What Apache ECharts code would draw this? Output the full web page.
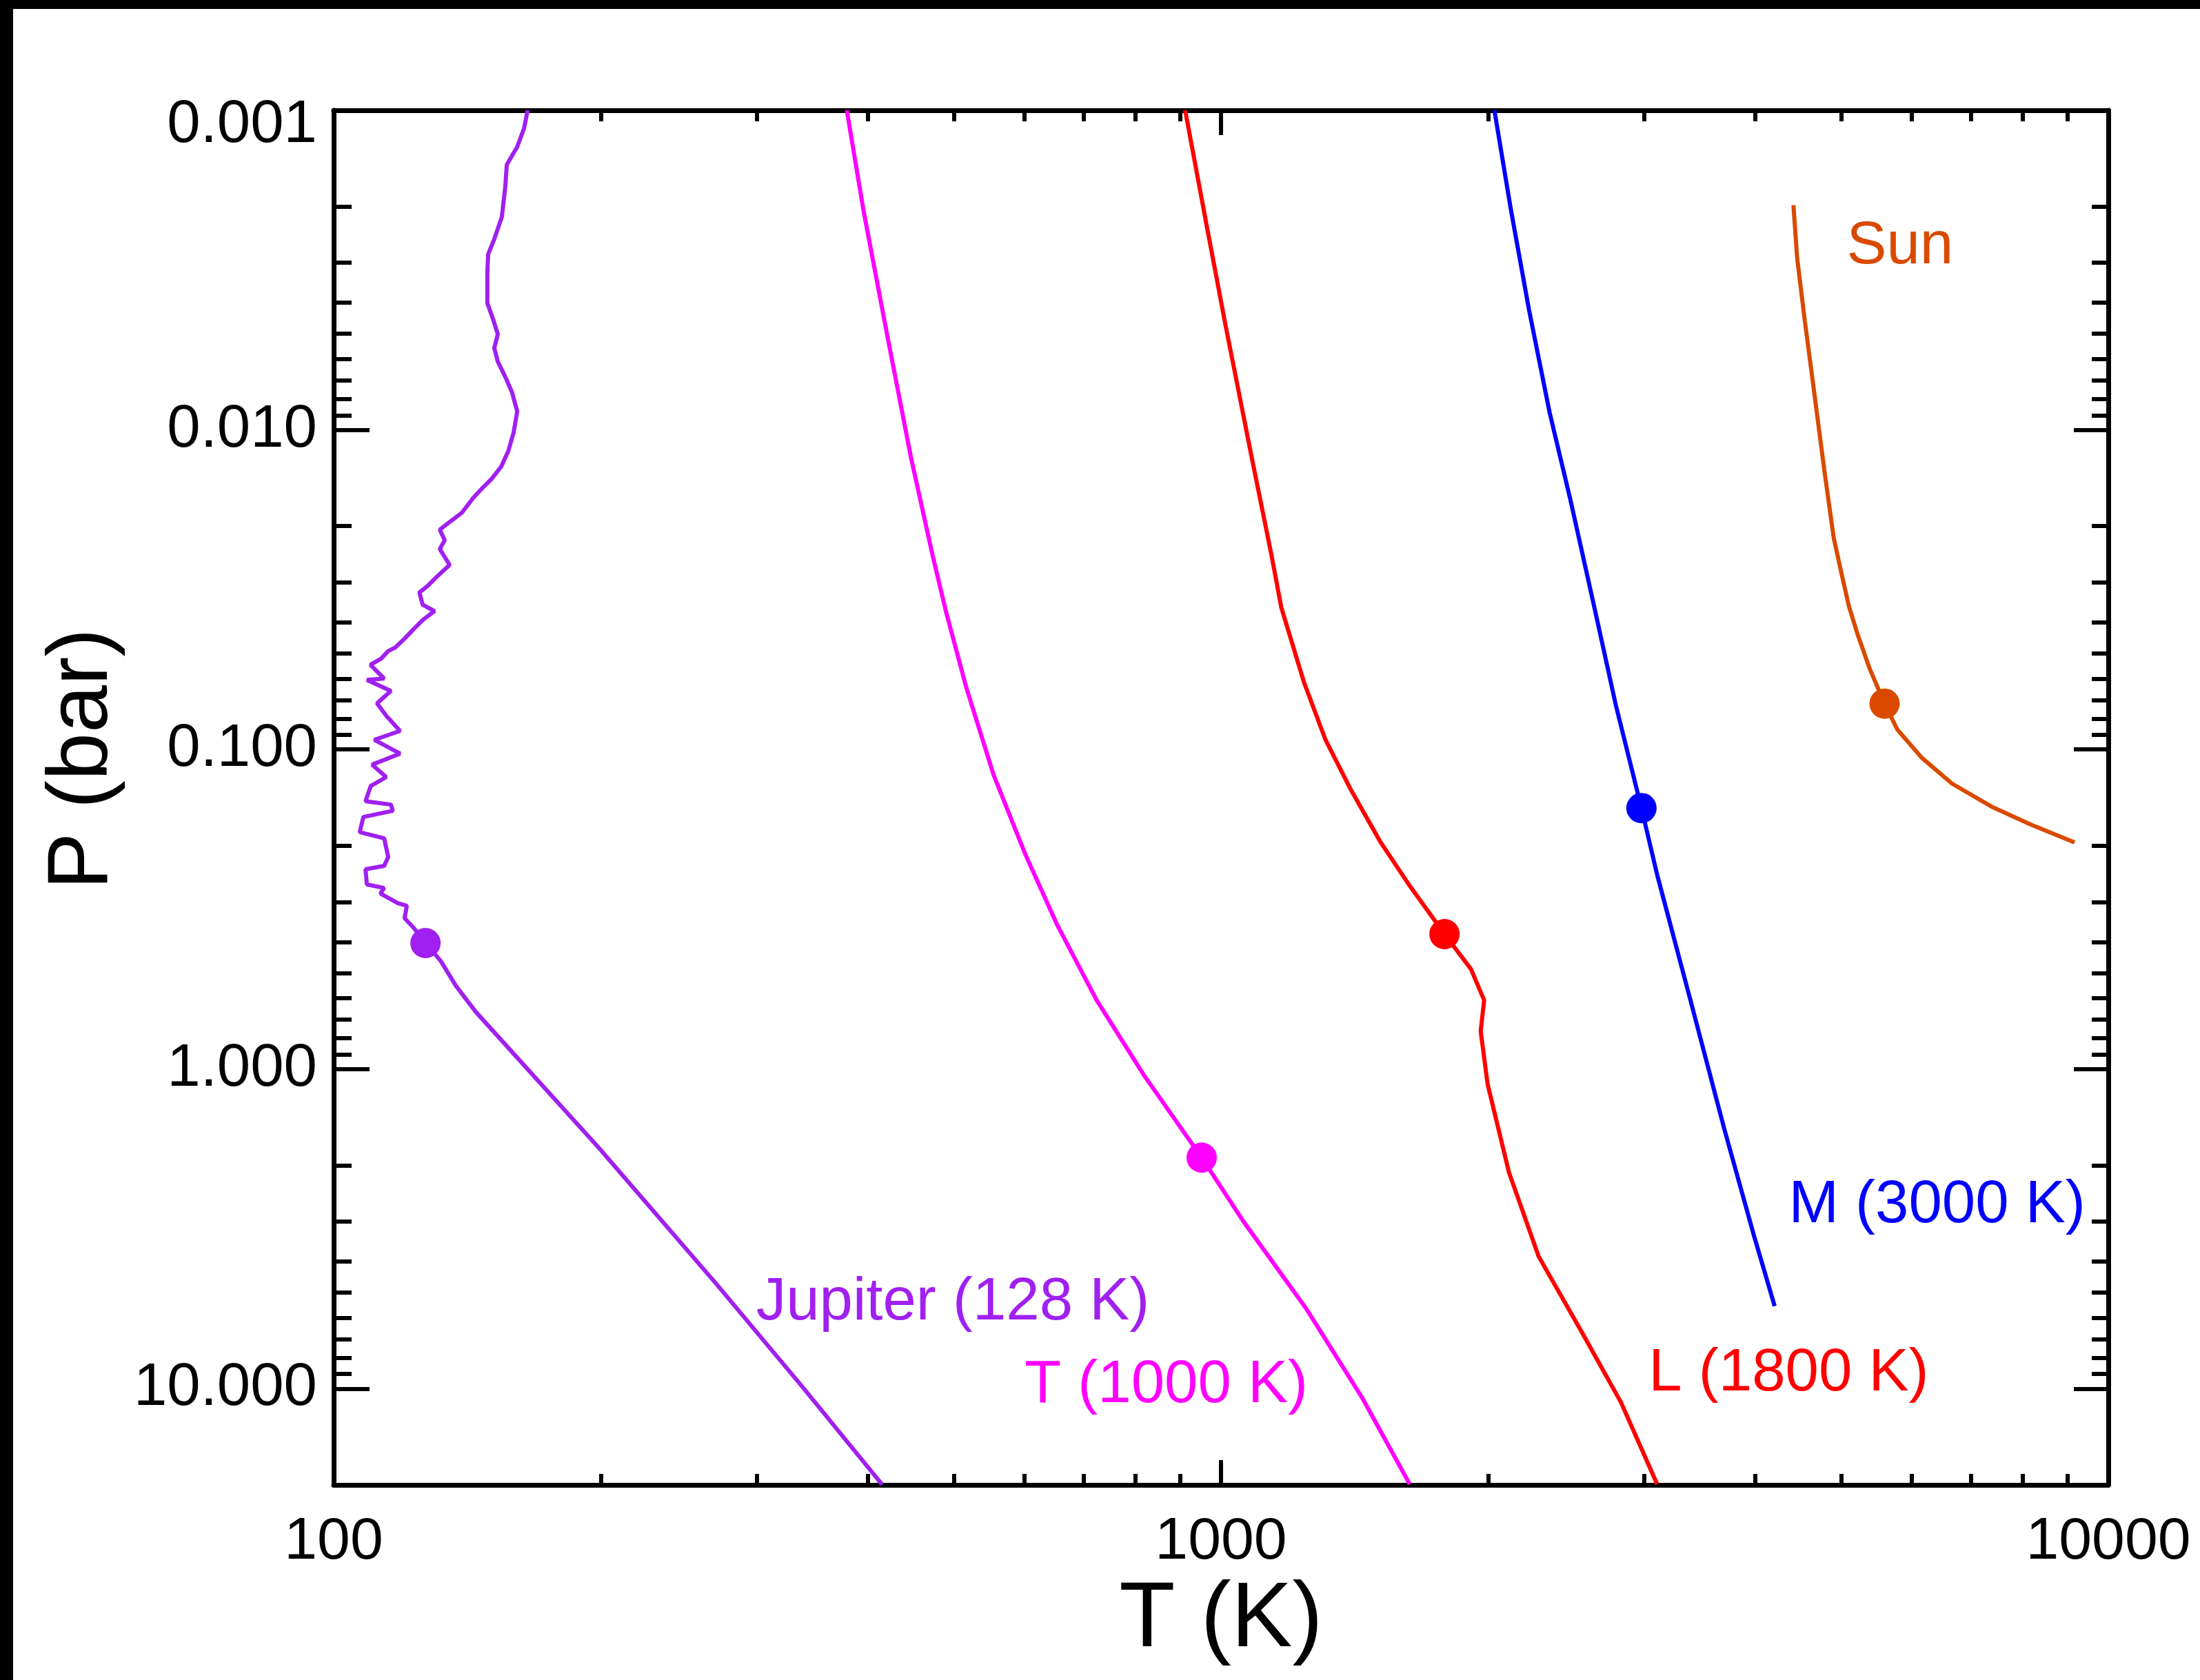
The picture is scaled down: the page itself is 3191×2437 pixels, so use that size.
<!DOCTYPE html>
<html>
<head>
<meta charset="utf-8">
<script src="https://cdn.jsdelivr.net/npm/echarts@6/dist/echarts.min.js"></script>
<style>
  html, body { margin: 0; padding: 0; background: #fff; }
  #chart { width: 3191px; height: 2437px; }
</style>
</head>
<body>
<div id="chart"></div>
<script>
// Temperature–pressure profiles (T in K, P in bar)
const jupiterT = [165.4, 163.9, 161.0, 156.7, 156.1, 154.7, 151.7, 149.3, 149.0, 149.0,
  151.2, 153.1, 151.7, 153.1, 156.1, 158.9, 161.0, 159.5, 157.3, 154.5,
  150.7, 147.2, 143.8, 139.5, 135.3, 131.7, 133.4, 131.7, 135.1, 130.5,
  127.5, 124.9, 126.0, 129.9, 126.0, 123.1, 120.2, 117.3, 115.2, 113.1,
  110.0, 114.0, 109.0, 116.0, 111.9, 114.6, 118.8, 111.1, 118.8, 110.5,
  114.6, 110.1, 108.6, 116.0, 116.6, 108.0, 107.0, 114.0, 115.2, 114.0,
  108.6, 109.0, 114.0, 112.9, 118.1, 120.9, 120.2, 123.1, 126.9, 132.0,
  137.3, 144.6, 199.2, 269.6, 338.3, 415.0];
const jupiterP = [0.001, 0.001138, 0.001301, 0.00148, 0.001735, 0.002158, 0.002529, 0.002821, 0.003226, 0.004013,
  0.004498, 0.005017, 0.005539, 0.006118, 0.006823, 0.007648, 0.008746, 0.0102, 0.01166, 0.01301,
  0.01422, 0.01517, 0.01626, 0.01814, 0.01935, 0.02053, 0.02212, 0.0236, 0.02645, 0.02892,
  0.03084, 0.03226, 0.03527, 0.03688, 0.03934, 0.04196, 0.04498, 0.04797, 0.04918, 0.05195,
  0.05432, 0.05998, 0.06057, 0.06558, 0.07171, 0.07843, 0.08747, 0.09328, 0.103, 0.1115,
  0.122, 0.1301, 0.1451, 0.1487, 0.1555, 0.1626, 0.1814, 0.1897, 0.2168, 0.2313,
  0.2371, 0.2645, 0.2712, 0.2821, 0.3024, 0.3084, 0.3373, 0.3615, 0.4033, 0.4587,
  0.5485, 0.6623, 1.769, 4.682, 9.95, 19.93];

const tDwarfT = [378.7, 395.4, 420.2, 447.3, 472.9, 489.9, 516.1, 554.3, 602.2, 653.9, 724.2, 819.0, 951.1, 1059.7, 1249.5, 1442.1, 1632];
const tDwarfP = [0.001, 0.002053, 0.004993, 0.0122, 0.02455, 0.03707, 0.06366, 0.1201, 0.2136, 0.3544, 0.6088, 1.046, 1.892, 2.994, 5.652, 10.66, 19.9];

const lDwarfT = [911.2, 960.5, 1011.8, 1083, 1139.6, 1169.5, 1240.7, 1311.6, 1398.9, 1511.2, 1632.2, 1786.0, 1913.2, 1979.6, 1961.9, 1997.5, 2111.4, 2280.3, 2548.4, 2823.9, 3101.4];
const lDwarfP = [0.001, 0.00219, 0.004704, 0.0122, 0.02455, 0.03597, 0.0618, 0.09328, 0.1327, 0.1939, 0.2672, 0.3781, 0.4869, 0.6088, 0.7612, 1.1152, 2.106, 3.857, 6.624, 11.04, 19.9];

const mDwarfT = [2033, 2119, 2223.9, 2346.4, 2475.7, 2627, 2786, 2977.5, 3101.6, 3375, 3690, 3985.5, 4207];
const mDwarfP = [0.001, 0.002003, 0.004207, 0.008835, 0.01651, 0.03457, 0.07264, 0.1525, 0.2468, 0.5968, 1.532, 3.307, 5.513];

const sunT = [4417, 4460, 4550, 4657, 4784, 4904, 5001, 5101, 5221, 5387, 5596, 5782, 6162, 6667, 7389, 8184, 9161];
const sunP = [0.001979, 0.002901, 0.004566, 0.007461, 0.01327, 0.02179, 0.02793, 0.03561, 0.04388, 0.05612, 0.07186, 0.08648, 0.1061, 0.1279, 0.151, 0.1718, 0.1954];

// Marked point on each profile
const dotT = [126.9, 951.1, 1786, 2977.5, 5596];
const dotP = [0.4033, 1.892, 0.3781, 0.1525, 0.07186];

// Profile names and where their captions sit (data coordinates)
const profileNames = ['Jupiter (128 K)', 'T (1000 K)', 'L (1800 K)', 'M (3000 K)', 'Sun'];
const captionT = [299, 600, 3031, 4359, 5066];
const captionP = [5.38, 9.78, 8.97, 2.68, 0.002675];

// Axis ticks
const xMajorTicks = [100, 1000, 10000];
const xMinorTicks = [200, 300, 400, 500, 600, 700, 800, 900, 2000, 3000, 4000, 5000, 6000, 7000, 8000, 9000];
const yMajorTicks = [0.001, 0.01, 0.1, 1, 10];
const yMinorTicks = [0.002, 0.003, 0.004, 0.005, 0.006, 0.007, 0.008, 0.009,
  0.02, 0.03, 0.04, 0.05, 0.06, 0.07, 0.08, 0.09,
  0.2, 0.3, 0.4, 0.5, 0.6, 0.7, 0.8, 0.9,
  2, 3, 4, 5, 6, 7, 8, 9];

const FONT = '"Liberation Sans", Arial, Helvetica, sans-serif';
const COLORS = ['#A020F0', '#FF00FF', '#FF0000', '#0000FF', '#D94A00'];
const profiles = [[jupiterT, jupiterP], [tDwarfT, tDwarfP], [lDwarfT, lDwarfP], [mDwarfT, mDwarfP], [sunT, sunP]];

const pairs = (xs, ys) => xs.map((x, i) => [x, ys[i]]);

function xAxisDef(position, ticks, tickLen, withLine, withLabels) {
  return {
    type: 'log', logBase: 10, min: 100, max: 10000, position: position,
    axisLine: { show: withLine, onZero: false, lineStyle: { color: '#000', width: 7 } },
    axisTick: { show: true, inside: true, length: tickLen, customValues: ticks, lineStyle: { color: '#000', width: 6 } },
    axisLabel: {
      show: withLabels, customValues: ticks, margin: 40,
      fontSize: 86, fontFamily: FONT, color: '#000',
      formatter: v => String(Math.round(v))
    },
    splitLine: { show: false }, minorTick: { show: false }
  };
}

function yAxisDef(position, ticks, tickLen, withLine, withLabels) {
  return {
    type: 'log', logBase: 10, min: 0.001, max: 20, inverse: true, position: position,
    axisLine: { show: withLine, onZero: false, lineStyle: { color: '#000', width: 7 } },
    axisTick: { show: true, inside: true, length: tickLen, customValues: ticks, lineStyle: { color: '#000', width: 6 } },
    axisLabel: {
      show: withLabels, customValues: ticks, margin: 24,
      fontSize: 87, fontFamily: FONT, color: '#000',
      formatter: v => {
        const s = Number(v).toFixed(3);
        return Math.abs(v - 0.001) < 1e-9 ? '{first|' + s + '}' : s;
      },
      rich: { first: { fontSize: 87, fontFamily: FONT, color: '#000', padding: [44, 0, 0, 0] } }
    },
    splitLine: { show: false }, minorTick: { show: false }
  };
}

const xAxes = [
  xAxisDef('bottom', xMajorTicks, 36, true, true),
  xAxisDef('bottom', xMinorTicks, 16, false, false),
  xAxisDef('top', xMajorTicks, 36, true, false),
  xAxisDef('top', xMinorTicks, 16, false, false)
];
Object.assign(xAxes[0], {
  name: 'T (K)', nameLocation: 'middle', nameGap: 131,
  nameTextStyle: { fontSize: 133, fontFamily: FONT, color: '#000' }
});

const yAxes = [
  yAxisDef('left', yMajorTicks, 52, true, true),
  yAxisDef('left', yMinorTicks, 26, false, false),
  yAxisDef('right', yMajorTicks, 50, true, false),
  yAxisDef('right', yMinorTicks, 24, false, false)
];
Object.assign(yAxes[0], {
  name: 'P (bar)', nameLocation: 'middle', nameGap: 292, nameRotate: 90,
  nameTextStyle: { fontSize: 124, fontFamily: FONT, color: '#000', padding: [0, 0, 0, 112] }
});

const lineSeries = profiles.map((p, i) => ({
  type: 'line', name: profileNames[i], data: pairs(p[0], p[1]),
  xAxisIndex: 0, yAxisIndex: 0,
  showSymbol: false, symbol: 'none', smooth: false, clip: true,
  lineStyle: { color: COLORS[i], width: 6, opacity: 1 }, z: 2, silent: true
}));

const dotSeries = {
  type: 'scatter', xAxisIndex: 0, yAxisIndex: 0, symbol: 'circle', symbolSize: 44, z: 3, silent: true,
  itemStyle: { opacity: 1 },
  data: dotT.map((t, i) => ({ value: [t, dotP[i]], itemStyle: { color: COLORS[i], opacity: 1 } }))
};

const captionSeries = {
  type: 'scatter', xAxisIndex: 0, yAxisIndex: 0, symbolSize: 1, z: 4, silent: true,
  itemStyle: { color: 'rgba(0,0,0,0)', opacity: 1 },
  label: { show: true, position: 'right', distance: 0, formatter: '{b}', fontSize: 87, fontFamily: FONT, opacity: 1 },
  data: captionT.map((t, i) => ({ name: profileNames[i], value: [t, captionP[i]], label: { color: COLORS[i] } }))
};

const chart = echarts.init(document.getElementById('chart'), null, { renderer: 'canvas' });
chart.setOption({
  animation: false,
  backgroundColor: '#fff',
  grid: { left: 484, right: 133, top: 160, bottom: 283, containLabel: false },
  xAxis: xAxes,
  yAxis: yAxes,
  series: [...lineSeries, dotSeries, captionSeries],
  graphic: [
    { type: 'rect', left: 0, top: 0, shape: { width: 19, height: 2437 }, style: { fill: '#000' }, z: 10 },
    { type: 'rect', left: 0, top: 0, shape: { width: 3191, height: 13 }, style: { fill: '#000' }, z: 10 }
  ]
});
</script>
</body>
</html>
